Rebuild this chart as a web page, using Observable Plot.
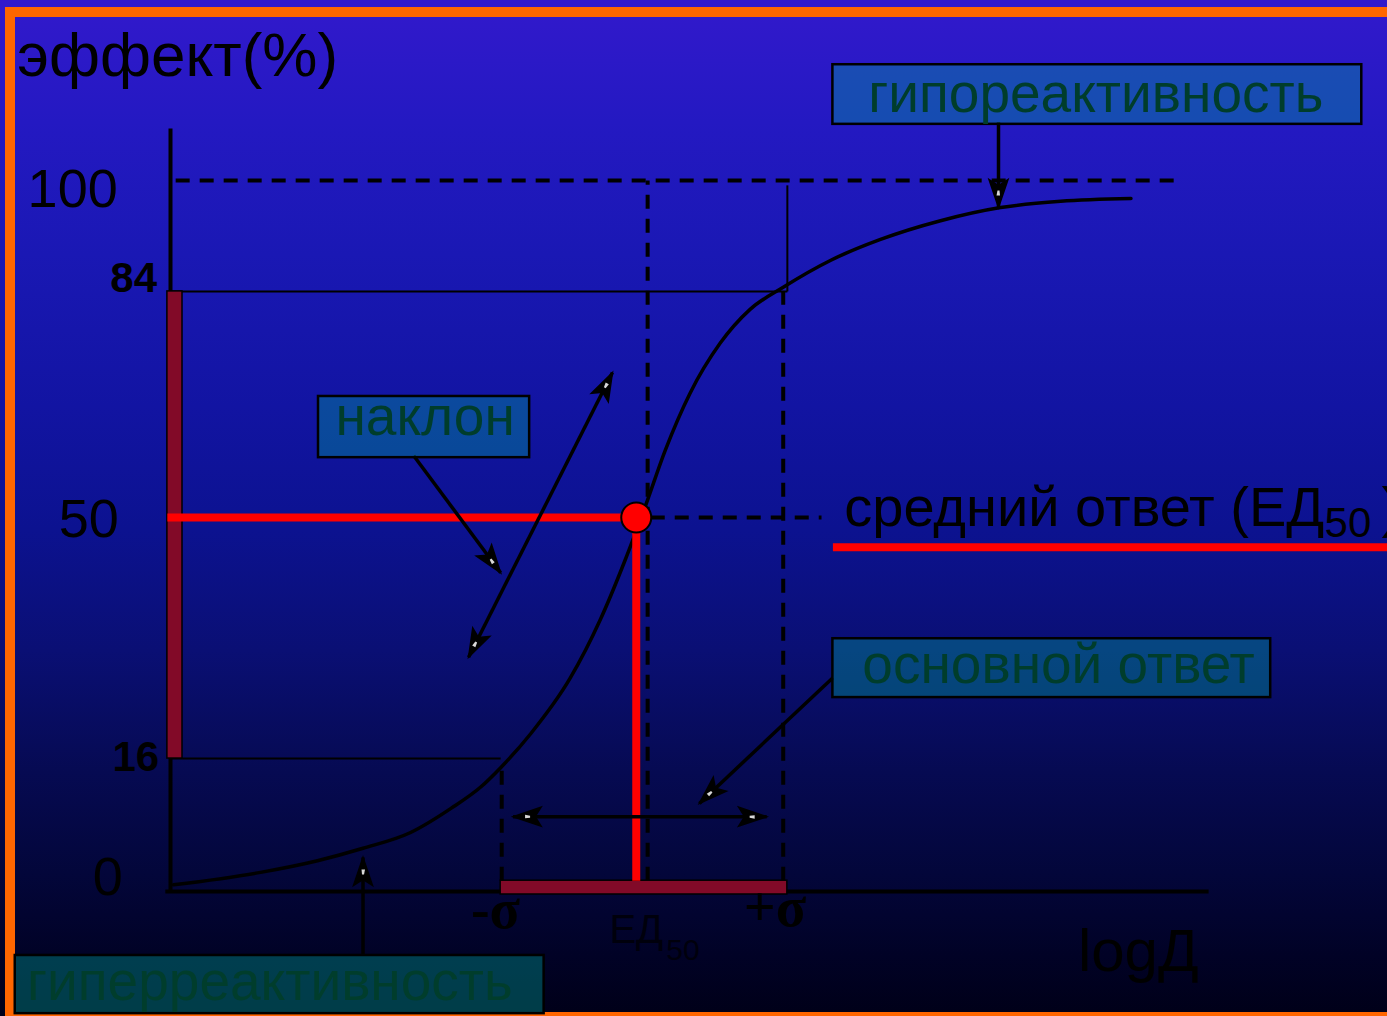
<!DOCTYPE html>
<html><head><meta charset="utf-8">
<script src="https://cdn.jsdelivr.net/npm/d3@7"></script>
<script src="https://cdn.jsdelivr.net/npm/@observablehq/plot@0.6"></script>
<style>
html,body{margin:0;padding:0;background:#000;}
#wrap{position:relative;width:1387px;height:1016px;overflow:hidden;
background:linear-gradient(to bottom,#3219cc 0%,#2419c2 12%,#1a18b4 25%,#1214a2 40%,#0c1290 52%,#0a0f74 64%,#060a52 76%,#03063a 86%,#010226 94%,#000018 100%);}
#frame{position:absolute;left:5px;top:7px;right:-20px;bottom:0;border-top:10px solid #ff6600;border-left:10px solid #ff6600;border-bottom:4px solid #ff6600;box-sizing:border-box;}
#chart{position:absolute;left:0;top:0;}
</style></head>
<body><div id="wrap"><div id="frame"></div><div id="chart"></div></div>
<script>
// ---- data (logД in arbitrary units, effect in %) ----
const curveLogD   = [0.3, 8.7, 14.2, 18.6, 23.2, 27.1, 30.0, 31.9, 34.8, 38.6, 41.5, 43.9, 45.9, 47.8, 50.2, 53.1, 56.0, 59.2, 63.8, 68.6, 74.4, 80.2, 86.0, 92.8];
const curveEffect = [0.8, 2.3, 3.7, 5.2, 7.1, 10.0, 12.6, 14.9, 19.5, 27.3, 35.5, 43.9, 51.8, 60.1, 68.7, 76.2, 81.3, 84.6, 88.5, 91.5, 94.2, 96.1, 97.0, 97.4];

const ed50 = 45.0;
const ed50Guide = 46.1;
const minusSigma = 31.9;
const plusSigma = 59.4;

// the schematic effect axis is not drawn to scale: marked levels and where they sit on the axis (0..100)
const effectLevels = [0, 16, 50, 84, 100];
const effectAxisPos = [0, 18.7, 52.6, 84.4, 100];

const yTickLabels = ["100", "50", "0"];
const yTickLabelX = [-5.1, -5.0, -4.6];
const yTickLabelY = [98.6, 49.7, 1.6];
const yBoldLabels = ["84", "16"];
const yBoldLabelX = [-1.3, -1.1];
const yBoldLabelY = [85.9, 16.1];

const sigmaLabels = ["-σ", "+σ"];
const sigmaLabelX = [31.4, 58.4];
const sigmaLabelY = [-2.2, -2.0];

const boxLabels = ["гипореактивность", "наклон", "основной ответ", "гиперреактивность"];
const boxX1 = [64.0, 14.3, 64.0, -15.0];
const boxX2 = [115.1, 34.7, 106.3, 36.1];
const boxY1 = [108.1, 59.0, 24.6, -14.7];
const boxY2 = [116.7, 68.2, 32.9, -7.7];
const boxTextX = [89.4, 24.6, 85.8, 9.6];
const boxTextY = [112.4, 65.0, 29.1, -10.9];

// arrows: start -> end, "both" = heads at both ends
const arrowX1 = [80.0, 23.5, 28.8, 64.0, 33.1, 18.6];
const arrowY1 = [108.4, 59.3, 30.3, 27.4, 9.0, -7.7];
const arrowX2 = [80.0, 31.9, 42.7, 51.1, 57.6, 18.6];
const arrowY2 = [96.1, 42.2, 71.8, 10.6, 9.0, 4.1];
const arrowBoth = [false, false, true, false, true, false];

// ---- scales ----
const warp = d3.scaleLinear().domain(effectLevels).range(effectAxisPos);
const xOpts = {domain: [0, 100], range: [170, 1205]};
const yOpts = {domain: [0, 100], range: [891, 180]};
const xS = Plot.scale({x: xOpts});
const yS = Plot.scale({y: yOpts});
const Y = k => d => warp(d[k]);

const curve = curveLogD.map((x, i) => ({x, y: curveEffect[i]}));
const boxes = boxLabels.map((label, i) => ({label, x1: boxX1[i], x2: boxX2[i], y1: boxY1[i], y2: boxY2[i], tx: boxTextX[i], ty: boxTextY[i]}));
const arrows = arrowX1.map((x1, i) => ({x1, y1: arrowY1[i], x2: arrowX2[i], y2: arrowY2[i], both: arrowBoth[i]}));

function head(tx, ty, fx, fy) {
  const dx = xS.apply(tx) - xS.apply(fx);
  const dy = yS.apply(warp(ty)) - yS.apply(warp(fy));
  return {x: tx, y: ty, angle: Math.atan2(dx, -dy) * 180 / Math.PI};
}
const heads = [];
arrows.forEach(a => {
  heads.push(head(a.x2, a.y2, a.x1, a.y1));
  if (a.both) heads.push(head(a.x1, a.y1, a.x2, a.y2));
});
const headSymbol = {draw(ctx) { ctx.moveTo(0, 0); ctx.lineTo(9.5, 28); ctx.lineTo(0, 22); ctx.lineTo(-9.5, 28); ctx.closePath(); }};
const speckSymbol = {draw(ctx) { ctx.moveTo(-1.5, 12); ctx.lineTo(2, 12); ctx.lineTo(1, 17); ctx.lineTo(-1, 17); ctx.closePath(); }};

const axesLines = [
  {x1: 0, y1: 0, x2: 0, y2: 107.5},
  {x1: -0.5, y1: 0, x2: 100.3, y2: 0}
];
const thinLines = [
  {x1: 0, y1: 84, x2: plusSigma + 0.2, y2: 84},
  {x1: 0, y1: 16, x2: minusSigma, y2: 16},
  {x1: plusSigma + 0.2, y1: 84, x2: plusSigma + 0.2, y2: 99.3}
];
const dashedLines = [
  {x1: 0.5, y1: 100, x2: 97.6, y2: 100},
  {x1: ed50Guide, y1: 1.3, x2: ed50Guide, y2: 100},
  {x1: plusSigma - 0.2, y1: 1.3, x2: plusSigma - 0.2, y2: 84},
  {x1: minusSigma + 0.1, y1: 1.3, x2: minusSigma + 0.1, y2: 15.3},
  {x1: 46.4, y1: 50, x2: 62.9, y2: 50}
];
const redLines = [
  {x1: -0.3, y1: 50, x2: ed50, y2: 50},
  {x1: ed50, y1: 50, x2: ed50, y2: 1.3},
  {x1: 64.0, y1: 45.8, x2: 118.4, y2: 45.8}
];
const redBars = [
  {x1: -0.3, x2: 1.16, y1: 16, y2: 84},
  {x1: minusSigma, x2: plusSigma + 0.2, y1: -0.36, y2: 1.3}
];

const yTicks = yTickLabels.map((t, i) => ({t, x: yTickLabelX[i], y: yTickLabelY[i]}));
const yBold = yBoldLabels.map((t, i) => ({t, x: yBoldLabelX[i], y: yBoldLabelY[i]}));
const sig = sigmaLabels.map((t, i) => ({t, x: sigmaLabelX[i], y: sigmaLabelY[i]}));
const one = (t, x, y) => [{t, x, y}];

const SANS = "'Liberation Sans', Arial, sans-serif";
const SERIF = "'Liberation Serif', 'Times New Roman', serif";
const L = {x1: "x1", y1: Y("y1"), x2: "x2", y2: Y("y2")};
const T = {x: "x", y: Y("y"), text: "t"};

const chart = Plot.plot({
  width: 1387, height: 1016, margin: 0,
  x: {...xOpts, axis: null},
  y: {...yOpts, axis: null},
  style: {background: "transparent", fontFamily: SANS, overflow: "visible"},
  marks: [
    Plot.link(dashedLines, {...L, stroke: "black", strokeWidth: 4, strokeDasharray: "14,10"}),
    Plot.link(thinLines, {...L, stroke: "black", strokeWidth: 2}),
    Plot.link(axesLines, {...L, stroke: "black", strokeWidth: 4}),
    Plot.line(curve, {x: "x", y: Y("y"), curve: "monotone-x", stroke: "black", strokeWidth: 3.5}),
    Plot.rect(redBars, {...L, fill: "#820a28", stroke: "black", strokeWidth: 1.5}),
    Plot.link(redLines, {...L, stroke: "#ff0000", strokeWidth: 8}),
    Plot.dot([{x: ed50, y: 50}], {x: "x", y: Y("y"), r: 15, fill: "#ff0000", stroke: "black", strokeWidth: 2}),
    Plot.link(arrows, {...L, stroke: "black", strokeWidth: 3.5}),
    Plot.dot(heads, {x: "x", y: Y("y"), rotate: "angle", symbol: headSymbol, r: 5, fill: "black", stroke: "black", strokeWidth: 1.5}),
    Plot.dot(heads, {x: "x", y: Y("y"), rotate: "angle", symbol: speckSymbol, r: 5, fill: "#d8d8d8"}),
    Plot.rect(boxes, {...L, fill: "#00a096", fillOpacity: 0.38, stroke: "black", strokeWidth: 2.5}),
    Plot.text(boxes, {x: "tx", y: Y("ty"), text: "label", fill: "#003d2c", fontSize: 55}),
    Plot.text(one("эффект(%)", -14.8, 117.9), {...T, textAnchor: "start", fontSize: 62, fill: "black"}),
    Plot.text(yTicks, {...T, textAnchor: "end", fontSize: 54, fill: "black"}),
    Plot.text(yBold, {...T, textAnchor: "end", fontSize: 42, fontWeight: "bold", fill: "black"}),
    Plot.text(sig, {...T, fontSize: 56, fontWeight: "bold", fontFamily: SERIF, fill: "black"}),
    Plot.text(one("ЕД", 47.6, -4.6), {...T, textAnchor: "end", fontSize: 40, fill: "#00000c"}),
    Plot.text(one("50", 47.9, -7.1), {...T, textAnchor: "start", fontSize: 30, fill: "#00000c"}),
    Plot.text(one("logД", 93.5, -7.2), {...T, fontSize: 60, fill: "black"}),
    Plot.text(one("средний ответ (ЕД", 65.1, 51.35), {...T, textAnchor: "start", fontSize: 56, fill: "black"}),
    Plot.text(one("50", 111.5, 49.2), {...T, textAnchor: "start", fontSize: 42, fill: "black"}),
    Plot.text(one(")", 117.0, 51.35), {...T, textAnchor: "start", fontSize: 56, fill: "black"})
  ]
});
document.getElementById("chart").appendChild(chart);
</script>
</body></html>
